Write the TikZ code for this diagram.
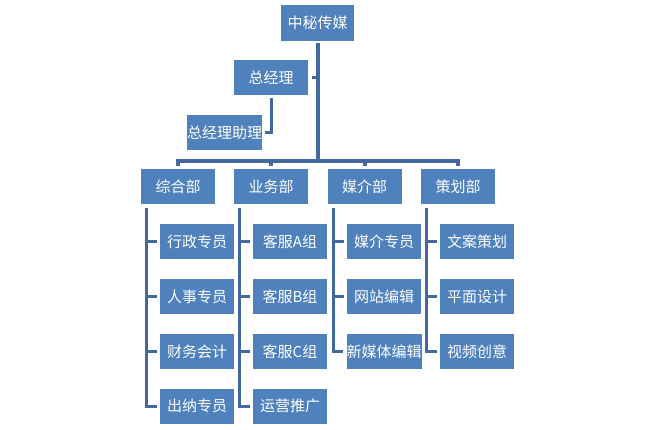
\documentclass[tikz,border=0pt]{standalone}
\usepackage{fontspec}
\setmainfont{Noto Sans CJK SC}
\definecolor{boxblue}{HTML}{4F81BD}
\definecolor{linkblue}{HTML}{41699F}
\tikzset{
  unit/.style={fill=boxblue, text=white, minimum width=74pt, minimum height=35pt, inner sep=0pt, font=\fontsize{15}{17}\selectfont},
  trunk/.style={draw=linkblue, line width=4pt},
  branch/.style={draw=linkblue, line width=3pt}
}
\begin{document}
\begin{tikzpicture}[x=1pt,y=-1pt]
\useasboundingbox (0,0) rectangle (656,430);
% top of the chart
\node[unit, minimum width=73pt, minimum height=36pt] (ceo) at (317.5,23) {中秘传媒};
\node[unit] (gm) at (271,77.5) {总经理};
\node[unit, minimum width=75pt] (asst) at (224.5,132.5) {总经理助理};
\coordinate (bus) at (0,161);
% departments
\node[unit] (zh) at (178,186.5) {综合部};
\node[unit] (yw) at (271,186.5) {业务部};
\node[unit] (mj) at (364.5,186.5) {媒介部};
\node[unit] (ch) at (458,186.5) {策划部};
% staff
\node[unit] (zh1) at (197,242) {行政专员};
\node[unit] (zh2) at (197,296.5) {人事专员};
\node[unit] (zh3) at (197,351.5) {财务会计};
\node[unit] (zh4) at (197,406) {出纳专员};
\node[unit] (yw1) at (290,242) {客服A组};
\node[unit] (yw2) at (290,296.5) {客服B组};
\node[unit] (yw3) at (290,351.5) {客服C组};
\node[unit] (yw4) at (290,406) {运营推广};
\node[unit] (mj1) at (384,242) {媒介专员};
\node[unit] (mj2) at (384,296.5) {网站编辑};
\node[unit] (mj3) at (384,351.5) {新媒体编辑};
\node[unit] (ch1) at (477,242) {文案策划};
\node[unit] (ch2) at (477,296.5) {平面设计};
\node[unit] (ch3) at (477,351.5) {视频创意};
% links
\draw[trunk, shorten <=2pt] (ceo.south) -- (ceo.south |- bus);
\draw[branch, shorten <=4pt] (gm.east) -- (gm.east -| ceo.south);
\draw[branch, shorten <=3pt, shorten >=3pt] (gm.south) |- (asst.east);
\draw[trunk, shorten <=3pt, shorten >=3pt] (zh.north) -- (zh.north |- bus) -- (ch.north |- bus) -- (ch.north);
\draw[trunk, shorten >=3pt] (yw.north |- bus) -- (yw.north);
\draw[trunk, shorten >=3pt] (mj.north |- bus) -- (mj.north);
\coordinate (zhx) at ([xshift=6pt]zh.south west);
\coordinate (ywx) at ([xshift=6pt]yw.south west);
\coordinate (mjx) at ([xshift=6pt]mj.south west);
\coordinate (chx) at ([xshift=6pt]ch.south west);
\draw[branch, shorten <=4pt, shorten >=3pt] (zhx) |- (zh4.west);
\draw[branch, shorten >=3pt] (zhx |- zh1.west) -- (zh1.west);
\draw[branch, shorten >=3pt] (zhx |- zh2.west) -- (zh2.west);
\draw[branch, shorten >=3pt] (zhx |- zh3.west) -- (zh3.west);
\draw[branch, shorten <=4pt, shorten >=3pt] (ywx) |- (yw4.west);
\draw[branch, shorten >=3pt] (ywx |- yw1.west) -- (yw1.west);
\draw[branch, shorten >=3pt] (ywx |- yw2.west) -- (yw2.west);
\draw[branch, shorten >=3pt] (ywx |- yw3.west) -- (yw3.west);
\draw[branch, shorten <=4pt, shorten >=3pt] (mjx) |- (mj3.west);
\draw[branch, shorten >=3pt] (mjx |- mj1.west) -- (mj1.west);
\draw[branch, shorten >=3pt] (mjx |- mj2.west) -- (mj2.west);
\draw[branch, shorten <=4pt, shorten >=3pt] (chx) |- (ch3.west);
\draw[branch, shorten >=3pt] (chx |- ch1.west) -- (ch1.west);
\draw[branch, shorten >=3pt] (chx |- ch2.west) -- (ch2.west);
\end{tikzpicture}
\end{document}
